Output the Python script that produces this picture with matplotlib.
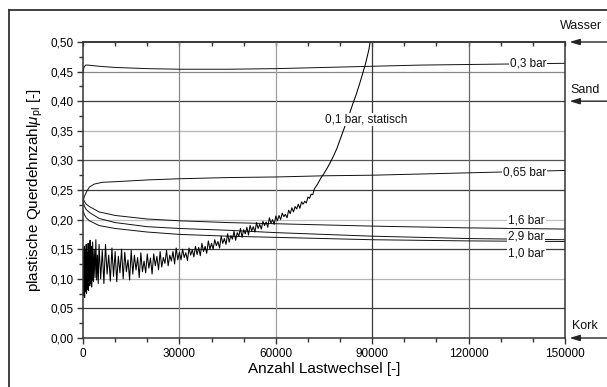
import numpy as np
import matplotlib
matplotlib.use("Agg")
import matplotlib.pyplot as plt
from matplotlib.lines import Line2D
from matplotlib.ticker import MultipleLocator, FuncFormatter

plt.rcParams['font.family'] = ['Liberation Sans', 'DejaVu Sans']
plt.rcParams['mathtext.fontset'] = 'custom'
plt.rcParams['mathtext.rm'] = 'Liberation Sans'
plt.rcParams['mathtext.it'] = 'Liberation Sans:italic'

# --- measured series -------------------------------------------------------
x_03 = [0, 300, 800, 1500, 5000, 10000, 20000, 30000, 45000, 60000, 75000,
        90000, 105000, 120000, 135000, 150000]
y_03 = [0.449, 0.457, 0.461, 0.461, 0.459, 0.457, 0.455, 0.454, 0.454, 0.455,
        0.457, 0.459, 0.461, 0.462, 0.463, 0.464]

x_065 = [0, 500, 1200, 2000, 3500, 6000, 10000, 20000, 30000, 45000, 60000,
         75000, 90000, 105000, 120000, 135000, 150000]
y_065 = [0.232, 0.240, 0.248, 0.255, 0.260, 0.263, 0.264, 0.267, 0.269, 0.271,
         0.272, 0.274, 0.275, 0.277, 0.279, 0.281, 0.283]

x_dec = [0, 500, 1000, 2000, 5000, 10000, 20000, 30000, 45000, 60000, 90000,
         120000, 150000]
y_16 = [0.236, 0.230, 0.226, 0.222, 0.213, 0.207, 0.201, 0.198, 0.195, 0.193,
        0.189, 0.186, 0.184]
y_29 = [0.230, 0.222, 0.217, 0.212, 0.202, 0.195, 0.188, 0.185, 0.182, 0.178,
        0.172, 0.168, 0.166]
y_10 = [0.215, 0.208, 0.203, 0.198, 0.190, 0.185, 0.179, 0.175, 0.172, 0.170,
        0.166, 0.164, 0.163]

# 0,1 bar static test: scattered readings, densest at the start
x_01_a = list(range(0, 3001, 100)) + list(range(3250, 5001, 250))
y_01_a = [0.150, 0.072, 0.140, 0.085, 0.155, 0.068, 0.130, 0.078, 0.150, 0.090,
          0.158, 0.075, 0.145, 0.082, 0.135, 0.095, 0.160, 0.080, 0.150, 0.100,
          0.142, 0.088, 0.165, 0.092, 0.138, 0.105, 0.155, 0.086, 0.148, 0.098,
          0.162,
          0.095, 0.150, 0.102, 0.166, 0.098, 0.140, 0.092, 0.158]
x_01_b = list(range(5500, 30001, 500))
y_01_b = [0.100, 0.148, 0.092, 0.158, 0.108, 0.140, 0.096, 0.152, 0.104, 0.146,
          0.095, 0.138, 0.110, 0.150, 0.100, 0.145, 0.112, 0.132, 0.098, 0.148,
          0.108, 0.140, 0.115, 0.136, 0.102, 0.144, 0.112, 0.130, 0.110, 0.142,
          0.118, 0.135, 0.108, 0.142, 0.122, 0.138, 0.115, 0.146, 0.120, 0.136,
          0.126, 0.148, 0.122, 0.140, 0.130, 0.146, 0.125, 0.152, 0.132, 0.145]
x_01_c = list(range(30500, 72001, 500))
y_01_c = [0.132, 0.150, 0.136, 0.144, 0.131, 0.152, 0.140, 0.149, 0.137, 0.155,
          0.141, 0.153, 0.139, 0.160, 0.146, 0.155, 0.143, 0.164, 0.150, 0.160,
          0.150, 0.166, 0.156, 0.163, 0.152, 0.172, 0.160, 0.168, 0.158, 0.176,
          0.162, 0.173, 0.167, 0.180, 0.165, 0.178, 0.172, 0.185, 0.170, 0.183,
          0.176, 0.187, 0.174, 0.190, 0.181, 0.188, 0.179, 0.195, 0.185, 0.192,
          0.184, 0.197, 0.190, 0.196, 0.187, 0.203, 0.194, 0.200, 0.192, 0.206,
          0.198, 0.207, 0.200, 0.211, 0.205, 0.209, 0.203, 0.216, 0.210, 0.220,
          0.213, 0.222, 0.218, 0.226, 0.219, 0.230, 0.226, 0.231, 0.228, 0.238,
          0.236, 0.243, 0.242, 0.252]
x_01_d = [73000, 74000, 75000, 76000, 77000, 78000, 79000, 80000, 81000, 82000,
          83000, 84000, 85000, 86000, 87000, 88000, 89000, 89500]
y_01_d = [0.260, 0.270, 0.278, 0.287, 0.297, 0.308, 0.320, 0.335, 0.350, 0.365,
          0.380, 0.396, 0.411, 0.428, 0.446, 0.465, 0.488, 0.505]

x_01 = x_01_a + x_01_b + x_01_c + x_01_d
y_01 = y_01_a + y_01_b + y_01_c + y_01_d

# curve labels: (text, x, y, align)
curve_labels = [("0,3 bar", 138500, 0.4635, "center"),
                ("0,65 bar", 137500, 0.2795, "center"),
                ("1,6 bar", 138000, 0.198, "center"),
                ("2,9 bar", 138000, 0.1715, "center"),
                ("1,0 bar", 138000, 0.1435, "center"),
                ("0,1 bar, statisch", 75300, 0.369, "left")]

# material reference levels on the right margin
ref_names = ["Wasser", "Sand", "Kork"]
ref_levels = [0.50, 0.40, 0.00]

# horizontal grid shades
hgrid_vals = [0.05, 0.10, 0.15, 0.20, 0.25, 0.30, 0.35, 0.40, 0.45]
hgrid_cols = ["#3a3a3a", "#b5b5b5", "#3a3a3a", "#c0c0c0", "#3a3a3a",
              "#555555", "#b5b5b5", "#3a3a3a", "#8a8a8a"]
vgrid_vals = [30000, 60000, 90000, 120000]
vgrid_cols = ["#8a8a8a", "#a0a0a0", "#3a3a3a", "#6a6a6a"]

# --- figure ----------------------------------------------------------------
W, H = 607, 387
fig = plt.figure(figsize=(W / 100, H / 100), dpi=100)
ax = fig.add_axes([83 / W, 49 / H, 482 / W, 296 / H])

ax.set_xlim(0, 150000)
ax.set_ylim(0, 0.5)

for v, c in zip(hgrid_vals, hgrid_cols):
    ax.axhline(v, color=c, lw=0.9, zorder=1)
for v, c in zip(vgrid_vals, vgrid_cols):
    ax.axvline(v, color=c, lw=0.9, zorder=1)

lc = "#111111"
ax.plot(x_03, y_03, color=lc, lw=0.7, zorder=3)
ax.plot(x_065, y_065, color=lc, lw=0.7, zorder=3)
ax.plot(x_dec, y_16, color=lc, lw=0.7, zorder=3)
ax.plot(x_dec, y_29, color=lc, lw=0.7, zorder=3)
ax.plot(x_dec, y_10, color=lc, lw=0.7, zorder=3)
ax.plot(x_01, y_01, color="black", lw=0.75, zorder=3)

for txt, xv, yv, ha in curve_labels:
    ax.text(xv, yv, txt, ha=ha, va="center", fontsize=8.5, color="#111111",
            zorder=5, bbox=dict(facecolor="white", edgecolor="none", pad=0.6))

# spines and ticks
for s in ax.spines.values():
    s.set_color("#333333")
    s.set_linewidth(1.1)
    s.set_zorder(6)

ax.xaxis.set_major_locator(MultipleLocator(30000))
ax.xaxis.set_minor_locator(MultipleLocator(10000))
ax.yaxis.set_major_locator(MultipleLocator(0.05))
ax.yaxis.set_minor_locator(MultipleLocator(0.025))
ax.xaxis.set_major_formatter(FuncFormatter(lambda v, p: f"{int(round(v))}"))
ax.yaxis.set_major_formatter(FuncFormatter(lambda v, p: f"{v:.2f}".replace(".", ",")))
ax.tick_params(axis="both", which="major", direction="out", length=4.5,
               width=1.0, color="#333333", labelsize=8.5, pad=2)
ax.tick_params(axis="both", which="minor", direction="out", length=3,
               width=1.0, color="#333333")
ax.tick_params(axis="x", which="major", pad=3)

top = ax.secondary_xaxis("top")
top.xaxis.set_major_locator(MultipleLocator(10000))
top.tick_params(direction="in", length=3, width=1.0, color="#333333",
                labeltop=False)
top.spines["top"].set_color("#333333")
top.spines["top"].set_linewidth(1.1)

ax.set_xlabel("Anzahl Lastwechsel [-]", fontsize=11, labelpad=1)
ax.set_ylabel(r"plastische Querdehnzahl$\mu_{\mathrm{pl}}$ [-]", fontsize=11,
              labelpad=4)

# reference markers outside the plot area
ref_text_pos = {"Wasser": (148400, 0.527, "left"),
                "Sand": (151800, 0.419, "left"),
                "Kork": (152200, 0.020, "left")}
for name, lvl in zip(ref_names, ref_levels):
    ax.annotate("", xy=(151400, lvl), xytext=(164000, lvl),
                arrowprops=dict(arrowstyle="-|>,head_length=0.6,head_width=0.18",
                                color="#222222", lw=1.0, shrinkA=0, shrinkB=0),
                annotation_clip=False)
    tx, ty, ha = ref_text_pos[name]
    ax.text(tx, ty, name, ha=ha, va="center", fontsize=9, color="#111111",
            clip_on=False)

# outer frame (top and left edges)
fc = "#333333"
fig.add_artist(Line2D([9 / W, 1.0], [1 - 10 / H, 1 - 10 / H], color=fc,
                      lw=1.3, transform=fig.transFigure))
fig.add_artist(Line2D([9 / W, 9 / W], [0.0, 1 - 10 / H], color=fc,
                      lw=1.3, transform=fig.transFigure))

fig.savefig("out.png", dpi=100, facecolor="white")
